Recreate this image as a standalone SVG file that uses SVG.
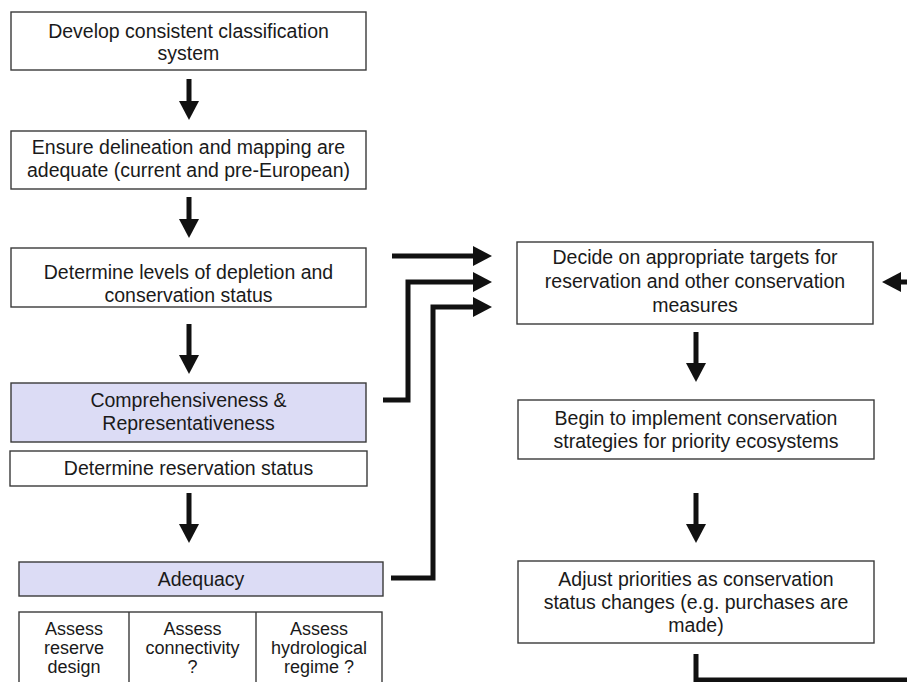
<svg xmlns="http://www.w3.org/2000/svg" width="907" height="682" viewBox="0 0 907 682">
<style>
.box{fill:#fff;stroke:#3a3a3a;stroke-width:1.4}
.hl{fill:#dcdcf5;stroke:#3a3a3a;stroke-width:1.4}
text{font-family:"Liberation Sans",Arial,sans-serif;font-size:19.5px;fill:#1a1a1a;text-anchor:middle}
.tbl{font-size:18px}
.conn{fill:none;stroke:#111;stroke-width:5;stroke-linejoin:miter;stroke-linecap:butt}
</style>
<defs>
<marker id="ah" markerUnits="userSpaceOnUse" markerWidth="19" markerHeight="20" viewBox="0 0 19 20" refX="1" refY="10" orient="auto">
<path d="M0,0 L19,10 L0,20 Z" fill="#111"/>
</marker>
</defs>
<rect width="907" height="682" fill="#fff"/>

<g id="n1"><rect class="box" x="11" y="12" width="355" height="58"/>
<text x="188.5" y="38">Develop consistent classification</text><text x="188.5" y="60">system</text></g>

<g id="n2"><rect class="box" x="11" y="131" width="355" height="58"/>
<text x="188.5" y="154">Ensure delineation and mapping are</text><text x="188.5" y="177">adequate (current and pre-European)</text></g>

<g id="n3"><rect class="box" x="11" y="248" width="355" height="59"/>
<text x="188.5" y="279">Determine levels of depletion and</text><text x="188.5" y="302">conservation status</text></g>

<g id="n4"><rect class="hl" x="11" y="383" width="355" height="59"/>
<text x="188.5" y="407">Comprehensiveness &amp;</text><text x="188.5" y="430">Representativeness</text></g>

<g id="n5"><rect class="box" x="10" y="451" width="357" height="35"/>
<text x="188.5" y="475">Determine reservation status</text></g>

<g id="n6"><rect class="hl" x="19" y="562" width="364" height="34"/>
<text x="201" y="586">Adequacy</text></g>

<g id="n7"><rect class="box" x="19" y="612" width="363" height="80"/>
<line x1="129" y1="612" x2="129" y2="692" stroke="#3a3a3a" stroke-width="1.4"/>
<line x1="256" y1="612" x2="256" y2="692" stroke="#3a3a3a" stroke-width="1.4"/>
<text class="tbl" x="74" y="635">Assess</text><text class="tbl" x="74" y="654">reserve</text><text class="tbl" x="74" y="673">design</text>
<text class="tbl" x="192.5" y="635">Assess</text><text class="tbl" x="192.5" y="654">connectivity</text><text class="tbl" x="192.5" y="673">?</text>
<text class="tbl" x="319" y="635">Assess</text><text class="tbl" x="319" y="654">hydrological</text><text class="tbl" x="319" y="673">regime ?</text></g>

<g id="n8"><rect class="box" x="517" y="242" width="356" height="82"/>
<text x="695" y="264">Decide on appropriate targets for</text><text x="695" y="288">reservation and other conservation</text><text x="695" y="312">measures</text></g>

<g id="n9"><rect class="box" x="518" y="400" width="356" height="59"/>
<text x="696" y="425">Begin to implement conservation</text><text x="696" y="448">strategies for priority ecosystems</text></g>

<g id="n10"><rect class="box" x="518" y="561" width="356" height="82"/>
<text x="696" y="586">Adjust priorities as conservation</text><text x="696" y="609">status changes (e.g. purchases are</text><text x="696" y="632">made)</text></g>

<g id="connectors">
<path class="conn" d="M189,79 V102" marker-end="url(#ah)"/>
<path class="conn" d="M189,197 V220" marker-end="url(#ah)"/>
<path class="conn" d="M189,324 V356" marker-end="url(#ah)"/>
<path class="conn" d="M189,493 V525" marker-end="url(#ah)"/>
<path class="conn" d="M392,256 H474" marker-end="url(#ah)"/>
<path class="conn" d="M383,400 H408 V282 H474" marker-end="url(#ah)"/>
<path class="conn" d="M391,578 H433 V307 H474" marker-end="url(#ah)"/>
<path class="conn" d="M907,282 H900" marker-end="url(#ah)"/>
<path class="conn" d="M696,332 V364" marker-end="url(#ah)"/>
<path class="conn" d="M696,493 V525" marker-end="url(#ah)"/>
<path class="conn" d="M696,654 V680 H907"/>
</g>
</svg>
